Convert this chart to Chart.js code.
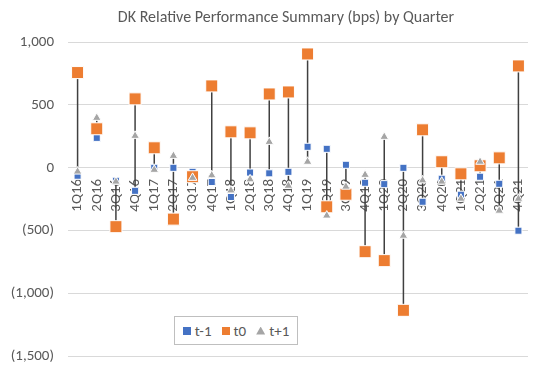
<!DOCTYPE html>
<html>
<head>
<meta charset="utf-8">
<script src="https://cdn.jsdelivr.net/npm/chart.js@4.4.1/dist/chart.umd.min.js"></script>
<style>
    body { margin: 0; background: #fff; }
    #wrap { position: relative; width: 544px; height: 366px; }
    #legenda {
        position: absolute; left: 174px; top: 316px; width: 122px; height: 27px;
        border: 1px solid #BFBFBF; background: #fff;
        font-family: Calibri, Carlito, Lato, sans-serif; font-size: 15px; color: #595959;
        display: flex; align-items: center; justify-content: center; gap: 10px;
    }
    .voce { display: flex; align-items: center; gap: 4px; }
    .sq { display: inline-block; width: 8px; height: 8px; }
    .tri { display: inline-block; width: 9px; height: 8px; clip-path: polygon(50% 0, 100% 100%, 0 100%); }
</style>
</head>
<body>
<div id="wrap">
    <canvas id="grafico" width="544" height="366"></canvas>
    <div id="legenda"></div>
</div>
<script>
const trimestri = ['1Q16', '2Q16', '3Q16', '4Q16', '1Q17', '2Q17', '3Q17', '4Q17',
    '1Q18', '2Q18', '3Q18', '4Q18', '1Q19', '2Q19', '3Q19', '4Q19',
    '1Q20', '2Q20', '3Q20', '4Q20', '1Q21', '2Q21', '3Q21', '4Q21'];

// bps
const tMeno1 = [-63, 238, -103, -183, 0, 0, -32, -113, -232, -38, -44, -32,
    167, 151, 24, -119, -130, 0, -270, -87, -214, -71, -127, -500];
const tZero = [757, 310, -468, 548, 159, -408, -71, 651, 286, 278, 587, 603,
    905, -310, -210, -667, -738, -1133, 302, 48, -48, 16, 79, 810];
const tPiu1 = [-30, 397, -110, 254, -16, 95, -80, -60, -180, -92, 206, -143,
    48, -380, -150, -56, 246, -540, -100, -110, -246, 48, -341, -246];

const yTicks = [1000, 500, 0, -500, -1000, -1500];

const serie = [
    { label: 't-1', data: tMeno1, color: '#4472C4', style: 'rect', radius: 5, order: 3 },
    { label: 't0', data: tZero, color: '#ED7D31', style: 'rect', radius: 8.5, order: 2 },
    { label: 't+1', data: tPiu1, color: '#A5A5A5', style: 'triangle', radius: 5, order: 1 }
];

// linee min-max per trimestre
const minMax = trimestri.map((q, i) => {
    const v = [tMeno1[i], tZero[i], tPiu1[i]];
    return [Math.min(...v), Math.max(...v)];
});

function formatBps(v) {
    const s = Math.abs(v).toLocaleString('en-US');
    return v < 0 ? '(' + s + ')' : s;
}

const font = 'Calibri, Carlito, Lato, sans-serif';
const grigio = '#595959';

const datasets = serie.map(s => ({
    type: 'line',
    label: s.label,
    data: s.data,
    showLine: false,
    pointStyle: s.style,
    pointRadius: s.radius,
    pointHoverRadius: s.radius,
    pointBackgroundColor: s.color,
    pointBorderColor: '#ffffff',
    pointBorderWidth: 1,
    order: s.order
}));

datasets.push({
    type: 'bar',
    label: 'hl',
    data: minMax,
    backgroundColor: '#404040',
    barThickness: 1.5,
    inflateAmount: 0,
    borderWidth: 0,
    order: 4
});

// sposta il titolo come in Excel
const titoloPlugin = {
    id: 'titoloPos',
    afterLayout(chart) {
        chart.titleBlock.left = 28;
        chart.titleBlock.right = 544;
    }
};

new Chart(document.getElementById('grafico'), {
    type: 'bar',
    data: { labels: trimestri, datasets: datasets },
    plugins: [titoloPlugin],
    options: {
        responsive: false,
        animation: false,
        layout: { padding: { left: 0, right: 16, top: 0, bottom: 9 } },
        plugins: {
            legend: { display: false },
            tooltip: { enabled: false },
            title: {
                display: true,
                text: 'DK Relative Performance Summary (bps) by Quarter',
                color: grigio,
                font: { family: font, size: 16, weight: 'normal' },
                padding: { top: 8, bottom: 14.8 }
            }
        },
        scales: {
            x: {
                type: 'category',
                position: { y: 0 },
                offset: true,
                z: 1,
                afterFit: s => { s.height = 0; },
                grid: { display: false },
                border: { display: false },
                ticks: {
                    color: grigio,
                    font: { family: font, size: 15 },
                    minRotation: 90,
                    maxRotation: 90,
                    autoSkip: false,
                    padding: 3
                }
            },
            y: {
                min: -1500,
                max: 1000,
                afterFit: s => { s.width = 68; },
                afterBuildTicks: s => { s.ticks = yTicks.map(v => ({ value: v })); },
                grid: { color: '#D9D9D9', drawTicks: true, tickLength: 14, tickColor: 'rgba(0,0,0,0)' },
                border: { display: false },
                ticks: {
                    color: grigio,
                    font: { family: font, size: 15 },
                    padding: 0,
                    callback: v => formatBps(v)
                }
            }
        }
    }
});

// legenda html dentro l'area del grafico
const legenda = document.getElementById('legenda');
serie.forEach(s => {
    const voce = document.createElement('span');
    voce.className = 'voce';
    const m = document.createElement('span');
    m.className = s.style === 'rect' ? 'sq' : 'tri';
    m.style.background = s.color;
    voce.appendChild(m);
    voce.appendChild(document.createTextNode(s.label));
    legenda.appendChild(voce);
});
</script>
</body>
</html>
